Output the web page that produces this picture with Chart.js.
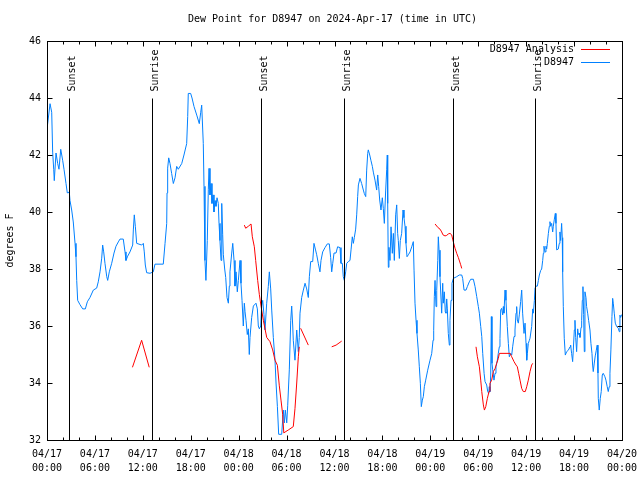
<!DOCTYPE html>
<html>
<head>
<meta charset="utf-8">
<title>Dew Point D8947</title>
<script src="https://cdn.jsdelivr.net/npm/chart.js@4.4.1/dist/chart.umd.min.js"></script>
<style>
  html, body { margin: 0; padding: 0; background: #fff; }
</style>
</head>
<body>
<canvas id="dewChart" width="640" height="480"></canvas>
<script>
// hours since 04/17 00:00 UTC, dew point in F

// station D8947 observations
const obsHours = [
  0.04, 0.38, 0.59, 0.71, 0.84, 0.91, 1.13, 1.34, 1.50, 1.72, 1.97, 2.13, 2.38, 2.54, 2.79, 2.88,
  3.09, 3.29, 3.51, 3.63, 3.72, 3.84, 4.13, 4.47, 4.80, 5.05, 5.38, 5.80, 6.22, 6.42, 6.64, 6.85,
  6.97, 7.10, 7.26, 7.48, 7.60, 7.80, 8.10, 8.39, 8.64, 8.93, 9.14, 9.55, 9.77, 9.89, 10.10, 10.39,
  10.73, 10.81, 10.93, 11.06, 11.23, 11.86, 12.06, 12.18, 12.31, 12.48, 12.90, 13.31, 13.52, 14.56,
  14.78, 14.99, 15.03, 15.11, 15.24, 15.40, 15.61, 15.82, 16.03, 16.24, 16.44, 16.87, 17.15, 17.49,
  17.62, 17.69, 17.99, 18.16, 18.41, 18.75, 19.07, 19.25, 19.37, 19.57, 19.66, 19.78, 19.90, 20.07,
  20.20, 20.29, 20.41, 20.54, 20.66, 20.79, 20.91, 21.04, 21.16, 21.29, 21.45, 21.54, 21.66, 21.79,
  21.88, 22.00, 22.08, 22.25, 22.38, 22.54, 22.71, 22.83, 22.91, 23.13, 23.26, 23.42, 23.54, 23.67,
  23.83, 23.96, 24.08, 24.17, 24.29, 24.42, 24.58, 24.71, 24.80, 24.92, 25.08, 25.21, 25.33, 25.42,
  25.63, 25.84, 26.17, 26.34, 26.46, 26.59, 26.76, 26.88, 27.01, 27.17, 27.30, 27.51, 27.71, 27.84,
  28.01, 28.14, 28.34, 28.55, 28.68, 28.85, 29.01, 29.39, 29.59, 29.72, 29.84, 30.02, 30.14, 30.34,
  30.52, 30.64, 30.77, 30.84, 31.05, 31.27, 31.47, 31.59, 31.68, 31.89, 32.10, 32.31, 32.52, 32.72,
  32.85, 33.02, 33.27, 33.43, 33.60, 33.77, 33.97, 34.18, 34.31, 34.52, 34.81, 35.10, 35.35, 35.52,
  35.65, 35.78, 35.94, 36.19, 36.39, 36.69, 36.81, 36.98, 37.10, 37.23, 37.40, 37.53, 37.73, 37.94,
  38.07, 38.23, 38.36, 38.48, 38.65, 38.78, 38.90, 38.99, 39.19, 39.40, 39.61, 39.73, 39.91, 40.03,
  40.16, 40.23, 40.41, 40.57, 40.74, 40.86, 41.07, 41.28, 41.41, 41.53, 41.66, 41.82, 41.99, 42.11,
  42.24, 42.41, 42.54, 42.61, 42.66, 42.74, 42.82, 42.95, 43.08, 43.24, 43.37, 43.49, 43.66, 43.79,
  43.91, 43.99, 44.12, 44.24, 44.41, 44.58, 44.70, 44.83, 44.95, 45.08, 45.25, 45.46, 45.67, 45.87,
  45.96, 46.08, 46.21, 46.33, 46.49, 46.62, 46.75, 46.87, 47.00, 47.12, 47.25, 47.42, 47.67, 47.96,
  48.17, 48.34, 48.42, 48.50, 48.59, 48.71, 48.80, 48.93, 49.00, 49.09, 49.21, 49.42, 49.55, 49.62,
  49.75, 49.87, 49.96, 50.05, 50.13, 50.25, 50.38, 50.46, 50.59, 50.71, 50.88, 51.09, 51.30, 51.63,
  51.93, 52.05, 52.22, 52.47, 52.63, 52.88, 53.06, 53.39, 53.60, 53.81, 54.01, 54.14, 54.31, 54.44,
  54.56, 54.73, 54.85, 55.06, 55.18, 55.31, 55.38, 55.47, 55.56, 55.64, 55.72, 55.81, 55.97, 56.10,
  56.22, 56.39, 56.51, 56.64, 56.72, 56.81, 56.93, 57.06, 57.14, 57.22, 57.35, 57.47, 57.64, 57.77,
  57.89, 58.06, 58.19, 58.31, 58.48, 58.60, 58.73, 58.81, 58.89, 59.02, 59.14, 59.31, 59.44, 59.56,
  59.73, 59.86, 59.98, 60.07, 60.15, 60.27, 60.40, 60.48, 60.69, 60.82, 60.90, 61.03, 61.11, 61.24,
  61.40, 61.53, 61.65, 61.82, 61.94, 62.07, 62.15, 62.23, 62.36, 62.48, 62.57, 62.65, 62.78, 62.90,
  62.98, 63.07, 63.19, 63.32, 63.40, 63.53, 63.65, 63.73, 63.82, 64.02, 64.15, 64.23, 64.32, 64.44,
  64.52, 64.57, 64.65, 64.77, 64.90, 65.07, 65.28, 65.49, 65.57, 65.69, 65.82, 65.90, 66.03, 66.11,
  66.20, 66.32, 66.45, 66.53, 66.65, 66.74, 66.87, 66.95, 67.03, 67.11, 67.20, 67.28, 67.36, 67.49,
  67.57, 67.70, 67.82, 67.99, 68.11, 68.24, 68.32, 68.40, 68.53, 68.65, 68.78, 68.90, 68.99, 69.03,
  69.15, 69.28, 69.40, 69.53, 69.65, 69.86, 69.99, 70.15, 70.28, 70.40, 70.49, 70.61, 70.74, 70.83,
  70.91, 71.03, 71.16, 71.33, 71.54, 71.66, 71.74, 71.83, 71.95
];
const obsDewpt = [
  43.0, 43.8, 43.5, 42.1, 41.5, 41.1, 42.07, 41.7, 41.5, 42.2, 41.8, 41.5, 41.0, 40.67, 40.7, 40.4,
  40.07, 39.65, 38.9, 38.43, 37.6, 36.9, 36.75, 36.6, 36.6, 36.85, 37.0, 37.26, 37.33, 37.55, 37.9, 38.38,
  38.84, 38.6, 38.2, 37.73, 37.6, 37.9, 38.2, 38.56, 38.8, 38.95, 39.05, 39.05, 38.6, 38.3, 38.45, 38.6,
  38.84, 39.37, 39.9, 39.5, 38.9, 38.84, 38.9, 38.6, 38.14, 37.87, 37.85, 37.9, 38.17, 38.17,
  38.9, 39.6, 40.67, 41.54, 41.9, 41.7, 41.35, 41.0, 41.2, 41.6, 41.5, 41.7, 42.0, 42.4,
  43.35, 44.16, 44.16, 44.0, 43.7, 43.4, 43.1, 43.5, 43.75, 42.4, 40.9, 38.3, 37.6, 39.0,
  40.8, 41.53, 40.6, 41.0, 40.3, 40.6, 40.0, 40.4, 40.2, 40.5, 40.3, 39.6, 39.0, 38.3,
  40.3, 39.2, 38.5, 38.0, 37.7, 37.0, 36.8, 37.4, 37.9, 38.56, 38.9, 38.3, 37.4, 37.9,
  37.2, 37.6, 38.0, 38.3, 37.5, 36.9, 36.0, 36.8, 36.5, 36.2, 35.7, 35.9, 35.0, 35.6,
  36.3, 36.7, 36.8, 36.6, 36.0, 35.9, 36.0, 36.7, 36.9, 36.4, 35.86, 36.8, 37.38, 37.9,
  37.3, 36.56, 35.6, 34.8, 34.0, 33.17, 32.2, 32.2, 33.05, 32.6, 33.05, 32.6, 33.2, 34.46,
  36.2, 36.7, 36.0, 35.5, 34.8, 35.86, 35.1, 35.6, 36.45, 37.0, 37.26, 37.5, 37.3, 37.0,
  37.73, 38.26, 38.26, 38.9, 38.7, 38.5, 38.2, 37.9, 38.3, 38.6, 38.75, 38.88, 38.88, 38.4,
  37.9, 38.2, 38.56, 38.56, 38.78, 38.75, 38.2, 38.2, 37.73, 37.6, 37.9, 38.2, 38.26, 38.3,
  38.67, 39.13, 38.9, 39.1, 39.4, 39.9, 40.54, 40.95, 41.18, 41.0, 40.77, 40.65, 40.54, 41.47,
  42.06, 42.18, 42.0, 41.8, 41.6, 41.4, 41.12, 40.77, 41.3, 40.9, 40.42, 40.07, 40.5, 40.13,
  39.6, 40.77, 41.5, 42.0, 40.3, 38.06, 38.76, 38.3, 39.48, 38.55, 39.25, 38.3, 39.9, 40.25,
  39.25, 39.0, 38.37, 39.0, 39.25, 40.07, 39.8, 39.5, 38.9, 38.43, 38.5, 38.6, 38.78, 38.96,
  37.96, 36.8, 36.2, 35.74, 35.16, 34.57, 33.99, 33.17, 33.4, 33.52, 33.87, 34.1, 34.45, 34.8,
  35.03, 35.5, 35.85, 37.03, 37.6, 36.68, 37.25, 38.3, 39.13, 38.66, 37.73, 36.45, 37.5, 36.8,
  37.2, 36.5, 36.45, 36.95, 36.6, 35.74, 35.33, 36.2, 36.9, 37.5, 37.67, 37.7, 37.73, 37.79,
  37.79, 37.67, 37.26, 37.26, 37.38, 37.55, 37.64, 37.64, 37.38, 37.03, 36.68, 36.45, 35.98, 35.63,
  35.04, 34.34, 34.05, 33.93, 33.70, 33.64, 33.87, 33.70, 34.28, 36.33, 34.69, 34.46, 34.1, 34.34,
  34.57, 34.8, 35.04, 35.27, 35.56, 36.56, 36.62, 36.39, 36.68, 36.45, 37.26, 36.9, 35.98, 35.39,
  34.92, 35.04, 34.98, 35.27, 35.63, 35.86, 36.45, 36.68, 36.21, 36.1, 36.39, 36.86, 37.26, 36.45,
  35.74, 36.1, 35.39, 34.8, 35.04, 35.39, 35.5, 35.57, 35.98, 36.6, 36.45, 36.9, 37.33, 37.4,
  37.4, 37.6, 37.79, 37.95, 38.0, 38.3, 38.55, 38.8, 38.6, 38.8, 38.7, 38.9, 39.25, 39.5,
  39.66, 39.5, 39.6, 39.3, 39.5, 39.75, 39.95, 39.6, 38.67, 38.7, 38.9, 39.3, 39.0, 39.6,
  39.1, 37.9, 36.68, 35.57, 34.98, 35.1, 35.15, 35.27, 35.33, 35.04, 34.75, 35.15, 35.86, 36.2,
  35.6, 35.1, 35.9, 35.7, 35.75, 35.6, 35.95, 36.2, 36.9, 37.38, 36.4, 35.1, 37.2, 37.0,
  36.68, 36.45, 36.2, 35.86, 35.39, 35.04, 34.63, 34.4, 34.7, 34.95, 35.15, 35.33, 34.35, 33.46,
  33.05, 33.46, 33.7, 34.28, 34.34, 34.22, 34.1, 33.87, 33.7, 33.87, 34.34, 35.16, 36.33, 36.97,
  36.8, 36.45, 36.1, 35.98, 35.92, 35.8, 36.38, 36.3, 36.4
];

// analysis values (null = no analysis)
const anaHours = [
  10.70, 11.85, 12.80, 13.5,
  24.71, 24.88, 25.21, 25.55, 25.71, 25.96, 26.13, 26.38, 26.59, 26.80, 27.09, 27.51, 27.92, 28.26,
  28.55, 28.85, 29.09, 29.30, 29.51, 29.65, 30.21, 30.84, 31.05, 31.27, 31.47, 31.59, 31.65,
  31.76, 32.72, 33.0,
  35.65, 36.20, 36.90, 40.0,
  48.59, 48.97, 49.21, 49.42, 49.58, 49.84, 50.05, 50.25, 50.46, 50.67, 50.88, 51.09, 51.30, 51.51,
  51.80, 51.93, 53.0,
  53.72, 53.89, 54.14, 54.31, 54.44, 54.64, 54.77, 54.94, 55.14, 55.35, 55.47, 55.68, 55.89, 56.10,
  56.31, 56.51, 56.64, 57.98, 58.19, 58.48, 58.73, 58.89, 59.06, 59.23, 59.44, 59.64, 59.89, 60.07,
  60.27, 60.48, 60.69, 60.82
];
const anaDewpt = [
  34.55, 35.5, 34.55, null,
  39.54, 39.43, 39.5, 39.58, 39.13, 38.78, 38.3, 37.6, 37.1, 36.7, 36.2, 35.6, 35.45, 35.16,
  34.8, 34.62, 33.9, 33.4, 32.9, 32.25, 32.35, 32.47, 33.1, 34.0, 34.92, 35.27, null,
  35.92, 35.33, null,
  35.27, 35.33, 35.47, null,
  39.58, 39.45, 39.4, 39.3, 39.2, 39.16, 39.18, 39.23, 39.25, 39.2, 38.95, 38.73, 38.55, 38.4,
  38.15, 38.02, null,
  35.27, 34.92, 34.57, 34.1, 33.7, 33.23, 33.05, 33.17, 33.46, 33.7, 33.99, 34.1, 34.4, 34.5,
  34.69, 34.86, 35.04, 35.04, 34.92, 34.75, 34.63, 34.57, 34.34, 34.1, 33.81, 33.7, 33.7, 33.87,
  34.1, 34.4, 34.63, 34.69
];

// sunrise / sunset markers
const sunHours = [2.79, 13.19, 26.83, 37.23, 50.88, 61.15];
const sunLabels = ['Sunset', 'Sunrise', 'Sunset', 'Sunrise', 'Sunset', 'Sunrise'];

// axis ticks
const xTickHours = [0, 6, 12, 18, 24, 30, 36, 42, 48, 54, 60, 66, 72];
const xTickDates = ['04/17', '04/17', '04/17', '04/17', '04/18', '04/18', '04/18', '04/18',
                    '04/19', '04/19', '04/19', '04/19', '04/20'];
const xTickTimes = ['00:00', '06:00', '12:00', '18:00', '00:00', '06:00', '12:00', '18:00',
                    '00:00', '06:00', '12:00', '18:00', '00:00'];
const yTicks = [32, 34, 36, 38, 40, 42, 44, 46];

const TITLE = 'Dew Point for D8947 on 2024-Apr-17 (time in UTC)';
const MONO = '"DejaVu Sans Mono", "Liberation Mono", monospace';

Chart.defaults.font.family = MONO;
Chart.defaults.font.size = 10;
Chart.defaults.color = '#000';

// gnuplot style frame, inward ticks, sun markers, key and title
const gnuplotLook = {
    id: 'gnuplotLook',
    afterDatasetsDraw(chart) {
        const { ctx, chartArea: a } = chart;
        const xs = chart.scales.x;
        const ys = chart.scales.y;
        const snap = v => Math.round(v) + 0.5;

        ctx.save();
        ctx.strokeStyle = '#000';
        ctx.fillStyle = '#000';
        ctx.lineWidth = 1;
        ctx.font = '10px ' + MONO;

        // sunrise / sunset lines
        const lineTop = snap(ys.getPixelForValue(44));
        sunHours.forEach((h, i) => {
            const px = snap(xs.getPixelForValue(h));
            ctx.beginPath();
            ctx.moveTo(px, lineTop);
            ctx.lineTo(px, a.bottom);
            ctx.stroke();
            ctx.save();
            ctx.translate(px, lineTop - 7);
            ctx.rotate(-Math.PI / 2);
            ctx.textAlign = 'left';
            ctx.textBaseline = 'alphabetic';
            ctx.fillText(sunLabels[i], 0, 5);
            ctx.restore();
        });

        // border
        const L = snap(a.left), R = snap(a.right), T = snap(a.top), B = snap(a.bottom);
        ctx.strokeRect(L, T, R - L, B - T);

        // x ticks every 2 h, longer every 6 h
        ctx.beginPath();
        for (let h = 0; h <= 72; h += 2) {
            const px = snap(xs.getPixelForValue(h));
            const len = h % 6 === 0 ? 5 : 3;
            ctx.moveTo(px, B); ctx.lineTo(px, B - len);
            ctx.moveTo(px, T); ctx.lineTo(px, T + len);
        }
        yTicks.forEach(v => {
            const py = snap(ys.getPixelForValue(v));
            ctx.moveTo(L, py); ctx.lineTo(L + 5, py);
            ctx.moveTo(R, py); ctx.lineTo(R - 5, py);
        });
        ctx.stroke();

        // key
        chart.data.datasets.forEach((ds, i) => {
            const ky = Math.round(a.top + 8 + i * 13) + 0.5;
            ctx.textAlign = 'right';
            ctx.textBaseline = 'middle';
            ctx.fillStyle = '#000';
            ctx.fillText(ds.label, a.right - 48, ky);
            ctx.strokeStyle = ds.borderColor;
            ctx.beginPath();
            ctx.moveTo(a.right - 41, ky);
            ctx.lineTo(a.right - 12, ky);
            ctx.stroke();
        });

        // title
        ctx.fillStyle = '#000';
        ctx.textAlign = 'center';
        ctx.textBaseline = 'middle';
        ctx.fillText(TITLE, (a.left + a.right) / 2 - 2, 19);

        ctx.restore();
    }
};

const analysisPoints = anaHours.map((h, i) => ({ x: h, y: anaDewpt[i] }));
const obsPoints = obsHours.map((h, i) => ({ x: h, y: obsDewpt[i] }));

new Chart(document.getElementById('dewChart'), {
    type: 'line',
    data: {
        datasets: [
            {
                label: 'D8947 Analysis',
                data: analysisPoints,
                borderColor: '#ff0000',
                borderWidth: 1,
                pointRadius: 0,
                tension: 0,
                spanGaps: false
            },
            {
                label: 'D8947',
                data: obsPoints,
                borderColor: '#0080ff',
                borderWidth: 1,
                pointRadius: 0,
                tension: 0
            }
        ]
    },
    options: {
        responsive: false,
        animation: false,
        devicePixelRatio: 1,
        layout: { padding: { top: 41, right: 18, bottom: 0, left: 0 } },
        plugins: {
            legend: { display: false },
            title: { display: false },
            tooltip: { enabled: false }
        },
        scales: {
            x: {
                type: 'linear',
                min: 0,
                max: 72,
                grid: { display: false, drawTicks: false },
                border: { display: false },
                afterBuildTicks(scale) {
                    scale.ticks = xTickHours.map(v => ({ value: v }));
                },
                ticks: {
                    padding: 7,
                    maxRotation: 0,
                    autoSkip: false,
                    font: { size: 10, lineHeight: 1.4 },
                    callback(value) {
                        const i = xTickHours.indexOf(value);
                        return i < 0 ? '' : [xTickDates[i], xTickTimes[i]];
                    }
                },
                afterFit(scale) {
                    scale.height = 40;
                    scale.paddingLeft = 0;
                    scale.paddingRight = 0;
                }
            },
            y: {
                min: 32,
                max: 46,
                grid: { display: false, drawTicks: false },
                border: { display: false },
                afterBuildTicks(scale) {
                    scale.ticks = yTicks.map(v => ({ value: v }));
                },
                ticks: { padding: 6 },
                title: {
                    display: true,
                    text: 'degrees F',
                    font: { size: 10 },
                    padding: { top: 4, bottom: 0 }
                },
                afterFit(scale) {
                    scale.width = 47;
                    scale.paddingTop = 0;
                    scale.paddingBottom = 0;
                }
            }
        }
    },
    plugins: [gnuplotLook]
});
</script>
</body>
</html>
